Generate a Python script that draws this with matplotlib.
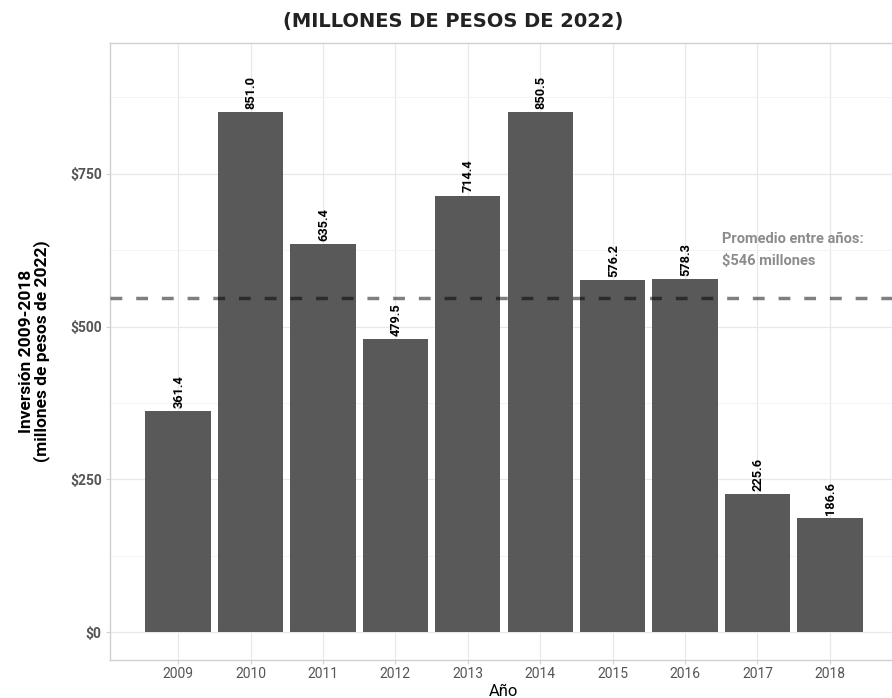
import matplotlib
matplotlib.use("Agg")
import matplotlib.pyplot as plt
from matplotlib.ticker import MultipleLocator

# data
years = [2009, 2010, 2011, 2012, 2013, 2014, 2015, 2016, 2017, 2018]
inversion = [361.4, 851.0, 635.4, 479.5, 714.4, 850.5, 576.2, 578.3, 225.6, 186.6]
promedio = 546
y_ticks = [0, 250, 500, 750]
y_tick_labels = ["$0", "$250", "$500", "$750"]

COND = ["Roboto", "DejaVu Sans"]
plt.rcParams["font.family"] = COND

fig = plt.figure(figsize=(8.92, 6.98), dpi=100)
ax = fig.add_axes([110 / 892, 1 - 660 / 698, (898 - 110) / 892, (660 - 43) / 698])

ax.bar(years, inversion, width=0.9, color="#595959", zorder=2)
for x, v in zip(years, inversion):
    ax.annotate(f"{v:.1f}", (x, v), xytext=(0.5, 2.2), textcoords="offset points",
                rotation=90, ha="center", va="bottom", fontsize=9.2,
                fontweight="bold", color="black", zorder=3)

ax.axhline(promedio, color="black", alpha=0.5, lw=2.5, dashes=(3.4, 4.0), zorder=4)
ax.text(2016.51, 655, "Promedio entre años:\n$546 millones", ha="left", va="top",
        fontsize=10.5, fontweight="bold", color="#8c8c8c", linespacing=1.7)

ax.set_xlim(2008.06, 2018.94)
ax.set_ylim(-45.8, 964)
ax.set_xticks(years)
ax.set_xticklabels([str(y) for y in years])
ax.set_yticks(y_ticks)
ax.set_yticklabels(y_tick_labels)
ax.yaxis.set_minor_locator(MultipleLocator(125))

ax.grid(True, which="major", color="#e8e8e8", lw=0.9, zorder=0)
ax.grid(True, which="minor", axis="y", color="#f3f3f3", lw=0.7, zorder=0)
ax.set_axisbelow(True)
for s in ax.spines.values():
    s.set_color("#d0d0d0")
    s.set_linewidth(1.0)

ax.tick_params(axis="both", which="major", length=3, color="#d0d0d0")
ax.tick_params(axis="both", which="minor", length=0)
ax.tick_params(axis="x", labelsize=10, labelcolor="#555555", pad=2)
ax.tick_params(axis="y", labelsize=10, labelcolor="#555555", pad=3)
for lbl in ax.get_yticklabels():
    lbl.set_fontweight("bold")

ax.set_xlabel("Año", fontsize=12, color="black", va="center")
ax.xaxis.set_label_coords(0.5, (660 - 692) / 617)
ax.set_ylabel("Inversión 2009-2018\n(millones de pesos de 2022)", fontsize=12.5,
              fontweight="bold", color="black", labelpad=14, linespacing=1.0)

fig.text(0.508, 1 - 21 / 698, "(MILLONES DE PESOS DE 2022)", ha="center", va="center",
         fontsize=14, fontweight="bold", color="#222222", family="DejaVu Sans")

fig.savefig("out.png", dpi=100)
